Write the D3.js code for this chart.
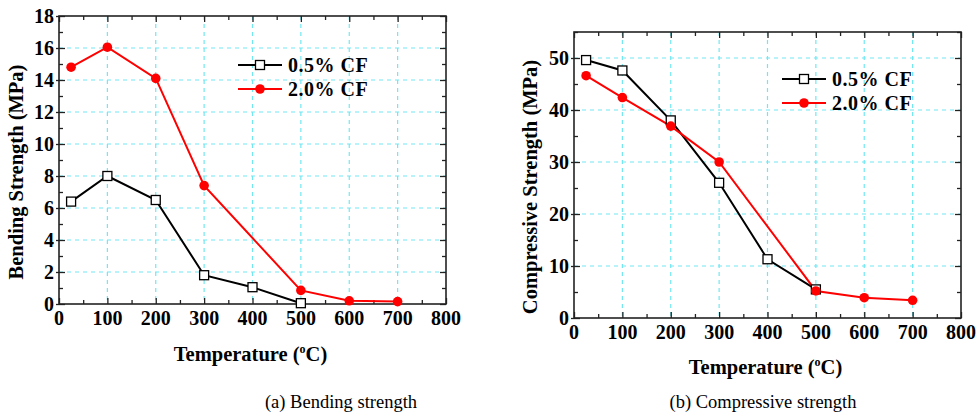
<!DOCTYPE html>
<html>
<head>
<meta charset="utf-8">
<script src="https://cdn.jsdelivr.net/npm/d3@7"></script>
<style>
  body { margin: 0; background: #fff; }
  svg { display: block; font-family: 'Liberation Serif', 'Times New Roman', serif; }
  .tick-label { font-size: 20px; font-weight: bold; fill: #000; }
  .axis-title { font-size: 20.5px; font-weight: bold; fill: #000; }
  .legend-label { font-size: 20px; font-weight: bold; fill: #000; }
  .caption { font-size: 18.5px; fill: #000; }
</style>
</head>
<body>
<div id="chart"></div>
<script>
// Data
const bendTemps05 = [25, 100, 200, 300, 400, 500];
const bend05 = [6.4, 8.0, 6.5, 1.8, 1.05, 0.05];
const bendTemps20 = [25, 100, 200, 300, 500, 600, 700];
const bend20 = [14.8, 16.05, 14.1, 7.4, 0.85, 0.2, 0.15];

const compTemps05 = [25, 100, 200, 300, 400, 500];
const comp05 = [49.6, 47.6, 38.0, 26.0, 11.3, 5.5];
const compTemps20 = [25, 100, 200, 300, 500, 600, 700];
const comp20 = [46.6, 42.4, 36.9, 30.0, 5.2, 3.9, 3.4];

const xTicks = [0, 100, 200, 300, 400, 500, 600, 700, 800];
const bendTicks = [0, 2, 4, 6, 8, 10, 12, 14, 16, 18];
const compTicks = [0, 10, 20, 30, 40, 50];
const seriesNames = ['0.5% CF', '2.0% CF'];

const W = 977, H = 414;
const svg = d3.select('#chart').append('svg')
  .attr('width', W)
  .attr('height', H);

const zip = (xs, ys) => xs.map((t, i) => ({ t: t, v: ys[i] }));

function panel(cfg) {
  const x = d3.scaleLinear().domain([0, 800]).range([cfg.left, cfg.right]);
  const y = d3.scaleLinear().domain([0, cfg.ymax]).range([cfg.bottom, cfg.top]);
  const g = svg.append('g');

  // grid
  g.append('g').selectAll('line')
    .data(xTicks.filter(d => d > 0 && d < 800))
    .enter().append('line')
    .attr('x1', d => x(d)).attr('x2', d => x(d))
    .attr('y1', cfg.top).attr('y2', cfg.bottom)
    .attr('stroke', '#70e8f2').attr('stroke-width', 1.2)
    .attr('stroke-dasharray', '4,4');
  g.append('g').selectAll('line')
    .data(cfg.yTicks.filter(d => d > 0 && d < cfg.ymax))
    .enter().append('line')
    .attr('x1', cfg.left).attr('x2', cfg.right)
    .attr('y1', d => y(d)).attr('y2', d => y(d))
    .attr('stroke', '#70e8f2').attr('stroke-width', 1.2)
    .attr('stroke-dasharray', '4,4');

  // axes with inward ticks on all four sides
  const xMinor = d3.range(0, 801, 50);
  const yMinor = d3.range(0, cfg.ymax + 0.001, cfg.yStep / 2);
  g.append('g').attr('transform', 'translate(0,' + cfg.bottom + ')')
    .call(d3.axisBottom(x).tickValues(xMinor).tickSize(-4).tickFormat(''))
    .call(a => a.selectAll('line').filter(d => d % 100 === 0).attr('y2', -6));
  g.append('g').attr('transform', 'translate(0,' + cfg.top + ')')
    .call(d3.axisTop(x).tickValues(xMinor).tickSize(-4).tickFormat(''))
    .call(a => a.selectAll('line').filter(d => d % 100 === 0).attr('y2', 6));
  g.append('g').attr('transform', 'translate(' + cfg.left + ',0)')
    .call(d3.axisLeft(y).tickValues(yMinor).tickSize(-4).tickFormat(''))
    .call(a => a.selectAll('line').filter(d => Math.abs(d % cfg.yStep) < 1e-6).attr('x2', 6).attr('x1', -3));
  g.append('g').attr('transform', 'translate(' + cfg.right + ',0)')
    .call(d3.axisRight(y).tickValues(yMinor).tickSize(-4).tickFormat(''))
    .call(a => a.selectAll('line').filter(d => Math.abs(d % cfg.yStep) < 1e-6).attr('x2', -6));
  g.selectAll('.domain').remove();
  g.selectAll('.tick line').attr('stroke', '#222').attr('stroke-width', 1.3);

  g.append('rect')
    .attr('x', cfg.left).attr('y', cfg.top)
    .attr('width', cfg.right - cfg.left).attr('height', cfg.bottom - cfg.top)
    .attr('fill', 'none').attr('stroke', '#222').attr('stroke-width', 1.6);

  // tick labels
  g.append('g').selectAll('text')
    .data(xTicks).enter().append('text')
    .attr('class', 'tick-label')
    .attr('x', d => x(d)).attr('y', cfg.bottom + 21)
    .attr('text-anchor', 'middle')
    .text(d => d);
  g.append('g').selectAll('text')
    .data(cfg.yTicks).enter().append('text')
    .attr('class', 'tick-label')
    .attr('x', cfg.left - 5).attr('y', d => y(d)).attr('dy', '0.35em')
    .attr('text-anchor', 'end')
    .text(d => d);

  // axis titles
  const xt = g.append('text')
    .attr('class', 'axis-title')
    .attr('x', (cfg.left + cfg.right) / 2 - 2).attr('y', cfg.xTitleY)
    .attr('text-anchor', 'middle');
  xt.append('tspan').text('Temperature (');
  xt.append('tspan').attr('dy', -8).style('font-size', '12px').text('o');
  xt.append('tspan').attr('dy', 8).text('C)');

  g.append('text')
    .attr('class', 'axis-title')
    .attr('transform', 'translate(' + cfg.yTitleX + ',' + cfg.yTitleY + ') rotate(-90)')
    .attr('text-anchor', 'middle')
    .text(cfg.yTitle);

  // lines
  const line = d3.line().x(d => x(d.t)).y(d => y(d.v));
  const s05 = zip(cfg.t05, cfg.v05);
  const s20 = zip(cfg.t20, cfg.v20);

  g.append('path').datum(s05)
    .attr('fill', 'none').attr('stroke', '#000').attr('stroke-width', 2)
    .attr('d', line);
  g.append('path').datum(s20)
    .attr('fill', 'none').attr('stroke', '#ff0000').attr('stroke-width', 2)
    .attr('d', line);

  g.append('g').selectAll('rect')
    .data(s05).enter().append('rect')
    .attr('x', d => x(d.t) - 4.5).attr('y', d => y(d.v) - 4.5)
    .attr('width', 9).attr('height', 9)
    .attr('fill', '#fff').attr('stroke', '#000').attr('stroke-width', 1.3);
  g.append('g').selectAll('circle')
    .data(s20).enter().append('circle')
    .attr('cx', d => x(d.t)).attr('cy', d => y(d.v))
    .attr('r', 4.8)
    .attr('fill', '#ff0000');

  // legend
  const lg = g.append('g').attr('transform', 'translate(' + cfg.legendX + ',' + cfg.legendY + ')');
  seriesNames.forEach((name, i) => {
    const row = lg.append('g').attr('transform', 'translate(0,' + i * 24 + ')');
    row.append('line')
      .attr('x1', 0).attr('x2', 44).attr('y1', 0).attr('y2', 0)
      .attr('stroke', i === 0 ? '#000' : '#ff0000').attr('stroke-width', 2);
    if (i === 0) {
      row.append('rect').attr('x', 17.5).attr('y', -4.5).attr('width', 9).attr('height', 9)
        .attr('fill', '#fff').attr('stroke', '#000').attr('stroke-width', 1.3);
    } else {
      row.append('circle').attr('cx', 22).attr('cy', 0).attr('r', 4.8).attr('fill', '#ff0000');
    }
    row.append('text').attr('class', 'legend-label')
      .attr('x', 50).attr('y', 0).attr('dy', '0.35em')
      .attr('letter-spacing', '0.5')
      .text(name);
  });

  // caption
  svg.append('text')
    .attr('class', 'caption')
    .attr('x', cfg.captionX).attr('y', 408)
    .attr('text-anchor', 'middle')
    .text(cfg.caption);
}

panel({
  left: 59, right: 446, top: 16, bottom: 304,
  ymax: 18, yStep: 2, yTicks: bendTicks,
  t05: bendTemps05, v05: bend05, t20: bendTemps20, v20: bend20,
  xTitleY: 361, yTitleX: 23, yTitleY: 172,
  yTitle: 'Bending Strength (MPa)',
  legendX: 238, legendY: 65,
  captionX: 341, caption: '(a) Bending strength'
});

panel({
  left: 574, right: 961, top: 32, bottom: 318,
  ymax: 55, yStep: 10, yTicks: compTicks,
  t05: compTemps05, v05: comp05, t20: compTemps20, v20: comp20,
  xTitleY: 374, yTitleX: 537, yTitleY: 187,
  yTitle: 'Compressive Strength (MPa)',
  legendX: 782, legendY: 79,
  captionX: 763, caption: '(b) Compressive strength'
});
</script>
</body>
</html>
